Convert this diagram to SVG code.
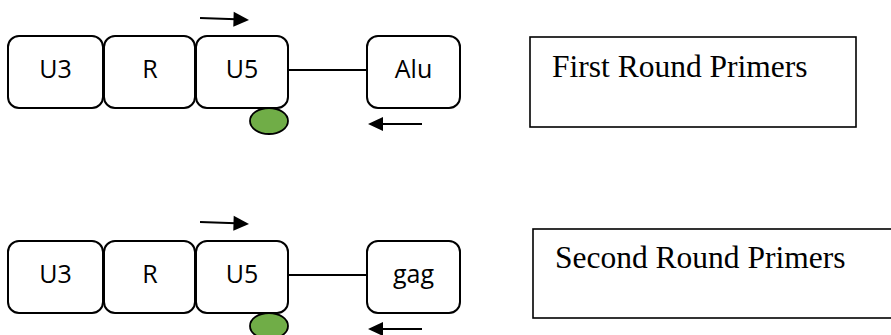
<svg xmlns="http://www.w3.org/2000/svg" width="891" height="335" viewBox="0 0 891 335">
<style>
.node{fill:#fff;stroke:#000;stroke-width:2}
.lbl{font-family:"Open Sans","Liberation Sans",sans-serif;font-size:25px;fill:#000;text-anchor:middle}
.cap{fill:#fff;stroke:#000;stroke-width:1.6}
.capt{font-family:"Liberation Serif","Times New Roman",serif;font-size:31.5px;fill:#000}
.dot{fill:#70AD47;stroke:#000;stroke-width:1.8}
.conn{stroke:#000;stroke-width:2;fill:none}
.head{fill:#000}
</style>
<rect width="891" height="335" fill="#fff"/>
<g id="row1">
<g id="u3-1"><rect class="node" x="8" y="36" width="95" height="72" rx="11"/><text class="lbl" x="55.5" y="77.5">U3</text></g>
<g id="r-1"><rect class="node" x="104" y="36" width="91" height="72" rx="11"/><text class="lbl" x="150" y="77.5">R</text></g>
<g id="u5-1"><rect class="node" x="196" y="36" width="92" height="72" rx="11"/><text class="lbl" x="242" y="77.5">U5</text></g>
<g id="alu"><rect class="node" x="367" y="36" width="93" height="72" rx="11"/><text class="lbl" x="413.5" y="77.5">Alu</text></g>
<g id="dot-1"><ellipse class="dot" cx="269" cy="121" rx="19" ry="13"/></g>
<g id="caption-1"><rect class="cap" x="530" y="37" width="326" height="90"/><text class="capt" x="552" y="77">First Round Primers</text></g>
</g>
<g id="row2">
<g id="u3-2"><rect class="node" x="8" y="241" width="95" height="72" rx="11"/><text class="lbl" x="55.5" y="282.5">U3</text></g>
<g id="r-2"><rect class="node" x="104" y="241" width="91" height="72" rx="11"/><text class="lbl" x="150" y="282.5">R</text></g>
<g id="u5-2"><rect class="node" x="196" y="241" width="92" height="72" rx="11"/><text class="lbl" x="242" y="282.5">U5</text></g>
<g id="gag"><rect class="node" x="367" y="241" width="93" height="72" rx="11"/><text class="lbl" x="413.5" y="282.5">gag</text></g>
<g id="dot-2"><ellipse class="dot" cx="269" cy="326" rx="19" ry="13"/></g>
<g id="caption-2"><rect class="cap" x="533" y="229" width="362" height="89"/><text class="capt" x="555" y="268">Second Round Primers</text></g>
</g>
<g id="connectors">
<line class="conn" x1="288" y1="70" x2="367" y2="70"/>
<line class="conn" x1="288" y1="275" x2="367" y2="275"/>
<line class="conn" x1="200" y1="18" x2="236" y2="19.2"/>
<polygon class="head" points="249,20 233.3,26.7 233.7,11.7"/>
<line class="conn" x1="200" y1="222" x2="236" y2="223.2"/>
<polygon class="head" points="249,224 233.3,230.7 233.7,215.7"/>
<line class="conn" x1="422" y1="124" x2="380" y2="124"/>
<polygon class="head" points="368,124 383,117 383,131"/>
<line class="conn" x1="422" y1="329" x2="380" y2="329"/>
<polygon class="head" points="368,329 383,322 383,336"/>
</g>
</svg>
